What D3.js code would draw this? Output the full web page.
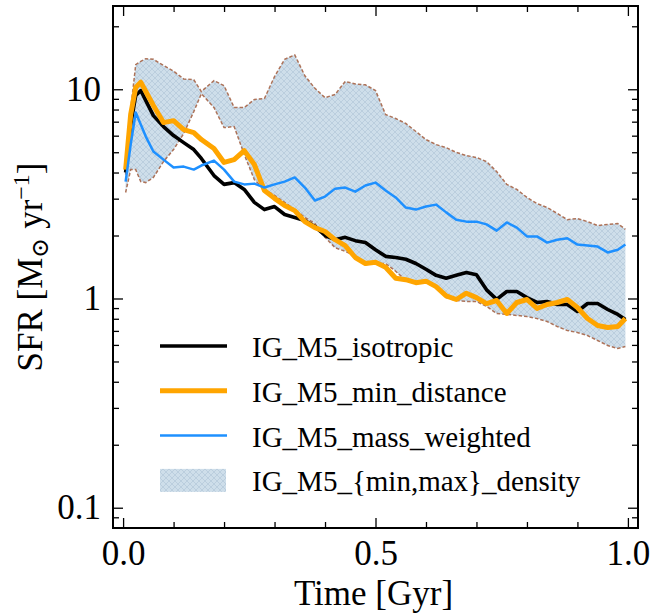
<!DOCTYPE html>
<html>
<head>
<meta charset="utf-8">
<script src="https://cdn.jsdelivr.net/npm/d3@7"></script>
<style>
  body { margin: 0; background: #fff; }
  svg { display: block; }
  text { font-family: "Liberation Serif", "DejaVu Serif", serif; fill: #000; }
</style>
</head>
<body>
<div id="chart"></div>
<script>
// time grid (Gyr)
const times = [0.005, 0.015, 0.025, 0.035, 0.045, 0.06, 0.08, 0.10, 0.12, 0.14, 0.155,
  0.18, 0.20, 0.22, 0.24, 0.26, 0.28, 0.30, 0.32, 0.34, 0.36, 0.38, 0.40, 0.42, 0.44,
  0.46, 0.48, 0.50, 0.52, 0.54, 0.56, 0.58, 0.60, 0.62, 0.64, 0.66, 0.68, 0.70, 0.72,
  0.74, 0.76, 0.78, 0.80, 0.82, 0.84, 0.86, 0.88, 0.90, 0.92, 0.94, 0.96, 0.98, 0.995];

// SFR values [Msun / yr]
const isotropic = [4.0, 6.78, 9.33, 9.86, 8.83, 7.48, 6.63, 6.01, 5.56, 5.15, 4.67,
  3.87, 3.51, 3.58, 3.32, 2.88, 2.66, 2.75, 2.52, 2.44, 2.36, 2.21, 2.00, 1.91, 1.96,
  1.89, 1.85, 1.71, 1.59, 1.57, 1.54, 1.47, 1.38, 1.29, 1.25, 1.29, 1.33, 1.30, 1.10,
  0.99, 1.08, 1.08, 1.01, 0.957, 0.968, 0.936, 0.936, 0.867, 0.946, 0.946, 0.886, 0.839, 0.794];

const minDistance = [4.13, 7.57, 10.2, 10.8, 9.75, 8.36, 6.93, 7.08, 6.42, 6.21, 5.75,
  5.21, 4.47, 4.61, 5.09, 4.37, 3.28, 3.01, 2.78, 2.63, 2.33, 2.18, 2.09, 1.91, 1.79,
  1.57, 1.47, 1.49, 1.41, 1.25, 1.23, 1.19, 1.21, 1.14, 1.03, 0.989, 1.06, 1.01, 0.946,
  0.978, 0.848, 0.957, 0.989, 0.896, 0.936, 0.957, 0.989, 0.906, 0.802, 0.743, 0.727, 0.735, 0.802];

const massWeighted = [3.62, 5.44, 7.74, 6.78, 5.94, 5.04, 4.61, 4.23, 4.27, 4.13, 4.32,
  4.56, 4.13, 3.62, 3.51, 3.54, 3.39, 3.51, 3.62, 3.79, 3.39, 2.94, 3.07, 3.35, 3.39,
  3.24, 3.47, 3.58, 3.28, 3.04, 2.72, 2.66, 2.75, 2.81, 2.58, 2.38, 2.33, 2.33, 2.26,
  2.11, 2.31, 2.18, 1.98, 1.98, 1.85, 1.91, 1.94, 1.81, 1.79, 1.77, 1.66, 1.71, 1.81];

// envelope of the {min,max}_density runs
const bandHigh = [3.91, 8.0, 13.1, 13.6, 14.0, 13.9, 13.0, 12.2, 11.2, 11.1, 9.75,
  11.0, 10.4, 8.18, 8.18, 8.93, 9.03, 11.5, 13.9, 14.6, 11.6, 10.1, 9.12, 9.44, 10.9,
  10.6, 10.5, 9.86, 7.57, 7.25, 6.86, 6.28, 5.75, 5.44, 5.26, 4.99, 4.82, 4.72, 4.51,
  4.04, 3.51, 3.32, 3.04, 2.84, 2.72, 2.55, 2.38, 2.41, 2.33, 2.23, 2.26, 2.28, 2.14];

const bandLow = [3.21, 4.13, 4.13, 3.62, 3.58, 3.79, 4.51, 5.15, 6.14, 7.82, 9.53,
  8.18, 6.56, 6.63, 4.88, 3.70, 3.32, 3.11, 2.88, 2.66, 2.44, 2.28, 1.96, 1.75, 1.68,
  1.60, 1.45, 1.47, 1.47, 1.35, 1.22, 1.18, 1.19, 1.13, 1.01, 0.978, 0.968, 0.968, 0.916,
  0.848, 0.839, 0.830, 0.820, 0.802, 0.776, 0.735, 0.703, 0.688, 0.665, 0.630, 0.596, 0.577, 0.590];

const xTicks = [0, 0.5, 1.0];
const yTicks = [0.1, 1, 10];
const legendLabels = ["IG_M5_isotropic", "IG_M5_min_distance", "IG_M5_mass_weighted", "IG_M5_{min,max}_density"];

const W = 652, H = 616;
const margin = { top: 6, right: 14, bottom: 88, left: 113 };
const width = W - margin.left - margin.right;
const height = H - margin.top - margin.bottom;

const svg = d3.select("#chart").append("svg").attr("width", W).attr("height", H);

// hatch pattern for the band
const defs = svg.append("defs");
const pat = defs.append("pattern")
  .attr("id", "hatch")
  .attr("patternUnits", "userSpaceOnUse")
  .attr("width", 6).attr("height", 6);
pat.append("rect").attr("width", 6).attr("height", 6).attr("fill", "#cedeea");
pat.append("path").attr("d", "M0,0L6,6M6,0L0,6")
  .attr("stroke", "#b6cadb").attr("stroke-width", 0.8);

defs.append("clipPath").attr("id", "clip")
  .append("rect").attr("width", width).attr("height", height);

const g = svg.append("g").attr("transform", `translate(${margin.left},${margin.top})`);

const x = d3.scaleLinear().domain([-0.02, 1.02]).range([0, width]);
const y = d3.scaleLog().domain([0.08, 25]).range([height, 0]);

const plot = g.append("g").attr("clip-path", "url(#clip)");

// band
const band = d3.area()
  .x((d, i) => x(times[i]))
  .y0((d, i) => y(bandLow[i]))
  .y1((d, i) => y(bandHigh[i]));
plot.append("path").datum(times).attr("fill", "url(#hatch)").attr("d", band);

const edge = d3.line().x((d, i) => x(times[i])).y(d => y(d));
[bandHigh, bandLow].forEach(s => {
  plot.append("path").datum(s)
    .attr("fill", "none")
    .attr("stroke", "#ad7258")
    .attr("stroke-width", 1.5)
    .attr("stroke-dasharray", "3.5,2")
    .attr("d", edge);
});

// lines
const series = [
  { data: isotropic, color: "#000000", w: 3.6 },
  { data: minDistance, color: "#ffa500", w: 5 },
  { data: massWeighted, color: "#1e90ff", w: 2.5 }
];
series.forEach(s => {
  plot.append("path").datum(s.data)
    .attr("fill", "none")
    .attr("stroke", s.color)
    .attr("stroke-width", s.w)
    .attr("stroke-linejoin", "round")
    .attr("d", edge);
});

// ticks (inward on all sides)
const xMinor = d3.range(0, 1.001, 0.1).filter(v => Math.abs(v * 2 - Math.round(v * 2)) > 1e-6);
const yMinor = [];
[0.01, 0.1, 1, 10].forEach(dec => d3.range(2, 10).forEach(m => {
  const v = m * dec;
  if (v > 0.08 && v < 25) yMinor.push(v);
}));

function styleAxis(sel) {
  sel.select(".domain").remove();
  sel.selectAll("line").attr("stroke", "#000").attr("stroke-width", 1.3);
  sel.selectAll("text").attr("font-size", 35);
}

g.append("g").attr("transform", `translate(0,${height})`)
  .call(d3.axisBottom(x).tickValues(xTicks).tickFormat(d3.format(".1f")).tickSize(-10).tickPadding(12))
  .call(styleAxis);
g.append("g").attr("transform", `translate(0,${height})`)
  .call(d3.axisBottom(x).tickValues(xMinor).tickFormat("").tickSize(-6))
  .call(styleAxis);
g.append("g")
  .call(d3.axisTop(x).tickValues(xTicks).tickFormat("").tickSize(-10))
  .call(styleAxis);
g.append("g")
  .call(d3.axisTop(x).tickValues(xMinor).tickFormat("").tickSize(-6))
  .call(styleAxis);

g.append("g")
  .call(d3.axisLeft(y).tickValues(yTicks).tickFormat(d => d < 1 ? d3.format(".1f")(d) : d3.format("d")(d)).tickSize(-10).tickPadding(12))
  .call(styleAxis);
g.append("g")
  .call(d3.axisLeft(y).tickValues(yMinor).tickFormat("").tickSize(-6))
  .call(styleAxis);
g.append("g").attr("transform", `translate(${width},0)`)
  .call(d3.axisRight(y).tickValues(yTicks).tickFormat("").tickSize(-10))
  .call(styleAxis);
g.append("g").attr("transform", `translate(${width},0)`)
  .call(d3.axisRight(y).tickValues(yMinor).tickFormat("").tickSize(-6))
  .call(styleAxis);

// frame
g.append("rect").attr("width", width).attr("height", height)
  .attr("fill", "none").attr("stroke", "#000").attr("stroke-width", 2);

// axis labels
svg.append("text")
  .attr("x", margin.left + x(0.5) - 2).attr("y", 605)
  .attr("text-anchor", "middle").attr("font-size", 35)
  .text("Time [Gyr]");

const yl = svg.append("text")
  .attr("transform", `translate(42,${margin.top + height / 2}) rotate(-90)`)
  .attr("text-anchor", "middle").attr("font-size", 35);
yl.append("tspan").text("SFR [M");
yl.append("tspan").attr("font-size", 24).attr("dy", 6).text("⊙");
yl.append("tspan").attr("dy", -6).text(" yr");
yl.append("tspan").attr("font-size", 24).attr("dy", -13).text("−1");
yl.append("tspan").attr("dy", 13).text("]");

// legend
const legend = svg.append("g").attr("transform", "translate(160,346)");
const rowGap = 44.8;
series.forEach((s, i) => {
  legend.append("line")
    .attr("x1", 0).attr("x2", 67)
    .attr("y1", i * rowGap).attr("y2", i * rowGap)
    .attr("stroke", s.color).attr("stroke-width", s.w);
});
legend.append("rect")
  .attr("x", 0).attr("y", 3 * rowGap - 11.5)
  .attr("width", 66).attr("height", 23)
  .attr("fill", "url(#hatch)");
legendLabels.forEach((t, i) => {
  legend.append("text")
    .attr("x", 92).attr("y", i * rowGap + 11)
    .attr("font-size", 29)
    .text(t);
});
</script>
</body>
</html>
